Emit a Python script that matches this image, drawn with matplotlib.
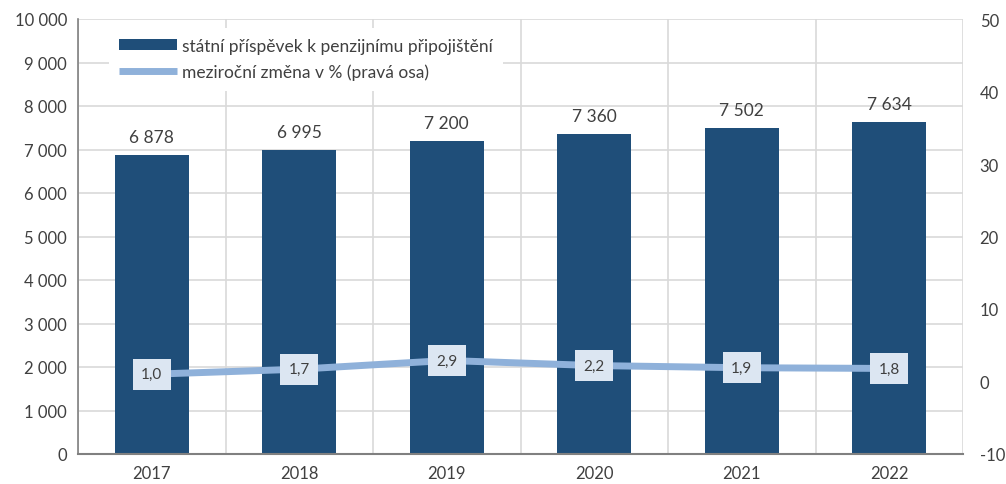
import matplotlib
matplotlib.use("Agg")
import matplotlib.pyplot as plt
from matplotlib.ticker import FuncFormatter, MultipleLocator
import numpy as np

years = ["2017", "2018", "2019", "2020", "2021", "2022"]
contrib = [6878, 6995, 7200, 7360, 7502, 7634]
change = [1.0, 1.7, 2.9, 2.2, 1.9, 1.8]
bar_label = "státní příspěvek k penzijnímu připojištění"
line_label = "meziroční změna v % (pravá osa)"

plt.rcParams['font.family'] = ['Lato', 'DejaVu Sans']
plt.rcParams['axes.unicode_minus'] = False
txt = "#404040"
bar_c = "#1F4E79"
line_c = "#8FB1DA"
box_c = "#DCE6F2"
grid_c = "#D9D9D9"

fig = plt.figure(figsize=(10.06, 4.85), dpi=100)
ax = fig.add_axes([78/1006, 1-455/485, (963-78)/1006, (455-20)/485])
x = np.arange(len(years))
ax.bar(x, contrib, width=0.5, color=bar_c, zorder=2, label=bar_label)
ax.set_xlim(-0.5, len(years)-0.5)
ax.set_ylim(0, 10000)
ax.yaxis.set_major_locator(MultipleLocator(1000))
ax.yaxis.set_major_formatter(FuncFormatter(lambda v, p: f"{int(v):,}".replace(",", " ")))
ax.set_xticks(x)
ax.set_xticklabels(years)
ax.set_xticks(np.arange(len(years)+1)-0.5, minor=True)
ax.grid(axis='y', color=grid_c, lw=1.2, zorder=0)
ax.grid(axis='x', which='minor', color=grid_c, lw=1.2, zorder=0)
ax.tick_params(axis='x', which='both', length=0, labelsize=12, colors=txt, pad=8)
ax.tick_params(axis='y', length=0, labelsize=12, colors=txt, pad=8)
for s in ['top', 'right']:
    ax.spines[s].set_visible(False)
ax.spines['left'].set_color('#808080')
ax.spines['bottom'].set_color('#808080')
ax.spines['left'].set_linewidth(1.2)
ax.spines['bottom'].set_linewidth(1.5)

for xi, v in zip(x, contrib):
    ax.text(xi, v + 230, f"{v:,}".replace(",", " "), ha='center', va='bottom', fontsize=12.5, color=txt, zorder=4)

ax2 = ax.twinx()
ax2.plot(x, change, color=line_c, lw=5, zorder=3, solid_capstyle='butt', label=line_label)
ax2.set_ylim(-10, 50)
ax2.yaxis.set_major_locator(MultipleLocator(10))
ax2.yaxis.set_major_formatter(FuncFormatter(lambda v, p: f"{int(round(v))}"))
ax2.tick_params(axis='y', length=0, labelsize=12, colors=txt, pad=12)
for s in ['top', 'right', 'left', 'bottom']:
    ax2.spines[s].set_visible(False)
for xi, v in zip(x, change):
    ax2.text(xi, v, f"{v:.1f}".replace(".", ","), ha='center', va='center', fontsize=11, color=txt,
             zorder=5, bbox=dict(boxstyle='square,pad=0.55', fc=box_c, ec='none'))

h1, l1 = ax.get_legend_handles_labels()
h2, l2 = ax2.get_legend_handles_labels()
leg = ax2.legend(h1 + h2, l1 + l2, loc='upper left', bbox_to_anchor=(0.025, 1.0), frameon=True,
                 fancybox=False, edgecolor='none', facecolor='white', framealpha=1,
                 fontsize=12.5, labelcolor=txt, handlelength=3.3, handleheight=0.6,
                 handletextpad=0.3, borderpad=0.6, labelspacing=0.55)
leg.set_zorder(10)

fig.savefig("out.png", dpi=100)
